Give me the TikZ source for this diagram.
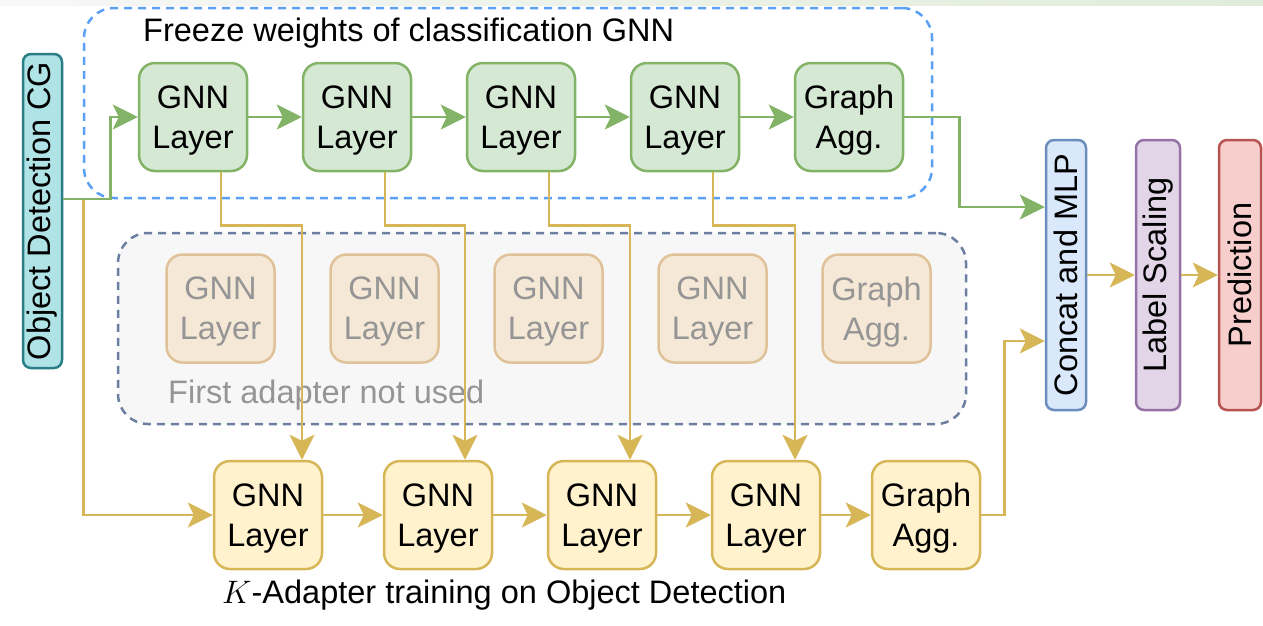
\RequirePackage{fix-cm}
\documentclass[tikz,border=0pt]{standalone}
\usepackage{fontspec}
\setmainfont{Liberation Sans}
\usepackage{xcolor}
\usetikzlibrary{arrows.meta,positioning,calc}

\definecolor{gnnfill}{HTML}{D5E8D4}
\definecolor{gnnline}{HTML}{82B366}
\definecolor{adfill}{HTML}{FFF2CC}
\definecolor{adline}{HTML}{D6B656}
\definecolor{offfill}{HTML}{F6E8D6}
\definecolor{offline}{HTML}{DFC298}
\definecolor{offtext}{HTML}{959595}
\definecolor{cgfill}{HTML}{B0E3E6}
\definecolor{cgline}{HTML}{2A7F86}
\definecolor{mlpfill}{HTML}{DAE8FC}
\definecolor{mlpline}{HTML}{6C8EBF}
\definecolor{scalefill}{HTML}{E1D5E7}
\definecolor{scaleline}{HTML}{9673A6}
\definecolor{predfill}{HTML}{F8CECC}
\definecolor{predline}{HTML}{B85450}
\definecolor{freezeline}{HTML}{5AA0F5}
\definecolor{unusedline}{HTML}{6C7FA0}
\definecolor{unusedfill}{HTML}{F7F7F7}

\begin{document}
\begin{tikzpicture}[
    x=1pt, y=1pt,
    node distance=53.5pt,
    every node/.style={font=\fontsize{32.5}{40}\selectfont},
    layer/.style={draw, rounded corners=16pt, line width=2.5pt, minimum width=108pt, minimum height=108pt, text depth=0pt, align=center, inner sep=0pt},
    frozen/.style={layer, draw=gnnline, fill=gnnfill},
    adapter/.style={layer, draw=adline, fill=adfill},
    unused/.style={layer, draw=offline, fill=offfill, text=offtext},
    bar/.style={draw, rounded corners=8pt, line width=2.5pt, rotate=90, minimum width=270pt, minimum height=42pt, inner sep=0pt},
    group/.style={rounded corners=30pt, line width=2.5pt, dash pattern=on 8pt off 6pt, inner sep=0pt},
    caption/.style={anchor=west, inner sep=0pt},
    garrow/.style={-{Stealth[length=25pt, width=25pt, inset=6pt]}, line width=2.5pt, draw=gnnline},
    yarrow/.style={-{Stealth[length=25pt, width=25pt, inset=6pt]}, line width=2.5pt, draw=adline}
]
\fill[white] (0,0) rectangle (1263,-625);
\useasboundingbox (0,0) rectangle (1263,-625);
\shade[left color=gray!6, right color=gnnline!25] (0,0) rectangle (1263,-5);

% dashed groups
\node[group, draw=freezeline, minimum width=848pt, minimum height=190pt] (freeze) at (508,-103) {};
\node[group, draw=unusedline, fill=unusedfill, minimum width=848pt, minimum height=191pt] (skip) at (542,-328.5) {};

% frozen classification GNN
\node[frozen] (g1) at (193,-117) {GNN\\Layer};
\node[frozen, right=of g1] (g2) {GNN\\Layer};
\node[frozen, right=of g2] (g3) {GNN\\Layer};
\node[frozen, right=of g3] (g4) {GNN\\Layer};
\node[frozen, right=of g4] (g5) {Graph\\Agg.};

% first adapter (not used)
\node[unused] (f1) at (220.5,-308.5) {GNN\\Layer};
\node[unused, right=of f1] (f2) {GNN\\Layer};
\node[unused, right=of f2] (f3) {GNN\\Layer};
\node[unused, right=of f3] (f4) {GNN\\Layer};
\node[unused, right=of f4] (f5) {Graph\\Agg.};

% K-adapter
\node[adapter] (a1) at (268,-515) {GNN\\Layer};
\node[adapter, right=59.5pt of a1] (a2) {GNN\\Layer};
\node[adapter, right=of a2] (a3) {GNN\\Layer};
\node[adapter, right=of a3] (a4) {GNN\\Layer};
\node[adapter, right=49.5pt of a4] (a5) {Graph\\Agg.};

% input and head
\node[bar, fill=cgfill, draw=cgline, minimum width=314pt, minimum height=39pt] (cg) at (42.5,-211) {Object Detection CG};
\node[bar, fill=mlpfill, draw=mlpline, minimum height=40pt] (cat) at (1066,-275) {Concat and MLP};
\node[bar, fill=scalefill, draw=scaleline, minimum height=44pt] (ls) at (1158,-275) {Label Scaling};
\node[bar, fill=predfill, draw=predline] (pred) at (1240,-275) {Prediction};

% captions
\node[caption] (freezetitle) at (143,-33) {Freeze weights of classification GNN};
\node[caption, text=offtext] (skiptitle) at (168,-395) {First adapter not used};
\node[caption] (adtitle) at (222,-595) {$K$-Adapter training on Object Detection};

% connections
\draw[yarrow] ([yshift=12pt]cg.south) -- ++(20,0) |- (a1.west);
\draw[garrow] ([yshift=12pt]cg.south) -- ++(47,0) |- (g1.west);
\foreach \a/\b in {g1/g2,g2/g3,g3/g4,g4/g5}
    \draw[garrow] (\a) -- (\b);
\foreach \a/\b in {a1/a2,a2/a3,a3/a4,a4/a5}
    \draw[yarrow] (\a) -- (\b);
\foreach \i/\dx in {1/34,2/27,3/28,4/29}
    \draw[yarrow] ([xshift=28pt]g\i.south) -- ++(0,-53) -| ([xshift=\dx pt]a\i.north);
\draw[garrow] (g5.east) -- ++(55,0) |- ([yshift=68pt]cat.north);
\draw[yarrow] (a5.east) -- ++(23,0) |- ([yshift=-66pt]cat.north);
\draw[yarrow] (cat.south) -- (ls.north);
\draw[yarrow] (ls.south) -- (pred.north);
\end{tikzpicture}
\end{document}
